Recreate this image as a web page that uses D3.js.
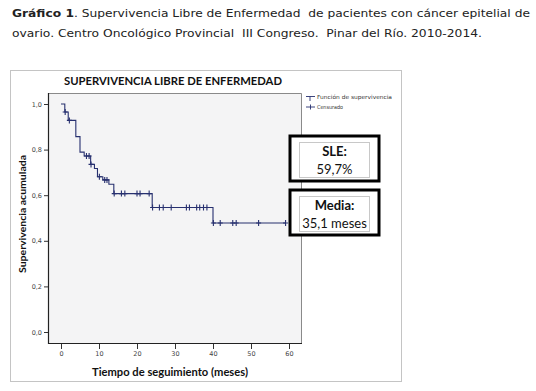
<!DOCTYPE html>
<html><head><meta charset="utf-8">
<script src="https://cdn.jsdelivr.net/npm/d3@7"></script>
<style>html,body{margin:0;padding:0;background:#fff;}svg{display:block;} text{white-space:pre;}</style>
</head><body>
<svg id="c" width="536" height="391"></svg>
<script>
// ---- data ----
const stepTimes = [0, 1.0, 1.9, 3.9, 5.0, 6.1, 7.8, 8.8, 9.6, 11.0, 12.6, 13.9, 24.0, 40.0];
const stepSurv  = [1.0, 0.965, 0.928, 0.857, 0.789, 0.772, 0.735, 0.717, 0.681, 0.667, 0.648, 0.607, 0.546, 0.478];
const endTime = 59.1;
const censorTimes = [1.1, 2.2, 6.7, 7.4, 7.9, 10.1, 11.5, 12.1, 14.0, 15.9, 16.8, 20.0, 20.8, 23.2,
  24.1, 25.9, 26.9, 29.0, 33.0, 33.8, 35.7, 36.5, 37.5, 38.4,
  40.1, 41.9, 45.2, 46.1, 52.0, 59.1];
const xTicks = [0, 10, 20, 30, 40, 50, 60];
const yTicks = [0, 0.2, 0.4, 0.6, 0.8, 1.0];
const captionBold = "Gráfico 1";
const captionLine1 = ". Supervivencia Libre de Enfermedad  de pacientes con cáncer epitelial de";
const captionLine2 = "ovario. Centro Oncológico Provincial  III Congreso.  Pinar del Río. 2010-2014.";
const chartTitle = "SUPERVIVENCIA LIBRE DE ENFERMEDAD";
const xTitle = "Tiempo de seguimiento (meses)";
const yTitle = "Supervivencia acumulada";
const legendItems = ["Función de supervivencia", "Censurado"];
const boxes = [["SLE:", "59,7%"], ["Media:", "35,1 meses"]];

// ---- drawing ----
const svg = d3.select("#c");
const lineColor = "#27306f";
const plot = {l: 48, r: 302, t: 93, b: 344};
const x = d3.scaleLinear().domain([0, 60]).range([61, 289]);
const y = d3.scaleLinear().domain([0, 1]).range([332, 104]);

// caption
const cap1 = svg.append("text").attr("x", 12).attr("y", 17)
  .attr("font-family", "DejaVu Sans, Verdana, sans-serif").attr("font-size", 11).attr("fill", "#222")
  .attr("textLength", 518).attr("lengthAdjust", "spacingAndGlyphs");
cap1.append("tspan").attr("font-weight", "bold").text(captionBold);
cap1.append("tspan").text(captionLine1);
svg.append("text").attr("x", 12).attr("y", 37)
  .attr("font-family", "DejaVu Sans, Verdana, sans-serif").attr("font-size", 11).attr("fill", "#222")
  .attr("textLength", 470).attr("lengthAdjust", "spacingAndGlyphs")
  .text(captionLine2);

// outer frame
svg.append("rect").attr("x", 10.5).attr("y", 70.5).attr("width", 391).attr("height", 311)
  .attr("fill", "#fff").attr("stroke", "#c4c4c4");

// chart title
svg.append("text").attr("x", 173).attr("y", 85).attr("text-anchor", "middle")
  .attr("font-family", "Lato, 'Open Sans', sans-serif").attr("font-weight", "bold").attr("font-size", 11.5)
  .attr("fill", "#111").attr("textLength", 218).attr("lengthAdjust", "spacingAndGlyphs").text(chartTitle);

// plot background
svg.append("rect").attr("x", plot.l).attr("y", plot.t).attr("width", plot.r - plot.l).attr("height", plot.b - plot.t)
  .attr("fill", "#f4f4f5");
// top and right border (gray)
svg.append("path").attr("d", `M${plot.l},${plot.t + 0.5}H${plot.r - 0.5}V${plot.b}`)
  .attr("fill", "none").attr("stroke", "#8a8a8a");
// left & bottom axes (black)
svg.append("path").attr("d", `M${plot.l + 0.5},${plot.t}V${plot.b - 0.5}H${plot.r}`)
  .attr("fill", "none").attr("stroke", "#222").attr("stroke-width", 1.2);

// y axis ticks
const fmt = d => d3.format(".1f")(d).replace(".", ",");
const yAxis = d3.axisLeft(y).tickValues(yTicks).tickFormat(fmt).tickSize(4).tickPadding(2);
const gy = svg.append("g").attr("transform", `translate(${plot.l},0)`).call(yAxis);
gy.select(".domain").remove();
gy.selectAll("line").attr("stroke", "#333");
gy.selectAll("text").attr("font-family", "'DejaVu Sans', sans-serif").attr("font-size", 6.5).attr("fill", "#444");

// x axis ticks
const xAxis = d3.axisBottom(x).tickValues(xTicks).tickFormat(d3.format("d")).tickSize(5).tickPadding(2);
const gx = svg.append("g").attr("transform", `translate(0,${plot.b})`).call(xAxis);
gx.select(".domain").remove();
gx.selectAll("line").attr("stroke", "#333");
gx.selectAll("text").attr("font-family", "'DejaVu Sans', sans-serif").attr("font-size", 6.5).attr("fill", "#444");

// axis titles
svg.append("text").attr("x", 170).attr("y", 376).attr("text-anchor", "middle")
  .attr("font-family", "Lato, 'Open Sans', sans-serif").attr("font-weight", "bold").attr("font-size", 12)
  .attr("fill", "#111").attr("textLength", 156).attr("lengthAdjust", "spacingAndGlyphs").text(xTitle);
svg.append("text").attr("transform", "translate(26,214) rotate(-90)").attr("text-anchor", "middle")
  .attr("font-family", "Lato, 'Open Sans', sans-serif").attr("font-weight", "bold").attr("font-size", 10)
  .attr("fill", "#111").attr("textLength", 118).attr("lengthAdjust", "spacingAndGlyphs").text(yTitle);

// survival step curve
const pts = stepTimes.map((t, i) => [t, stepSurv[i]]);
pts.push([endTime, stepSurv[stepSurv.length - 1]]);
const line = d3.line().x(d => x(d[0])).y(d => y(d[1])).curve(d3.curveStepAfter);
svg.append("path").attr("d", line(pts)).attr("fill", "none").attr("stroke", lineColor).attr("stroke-width", 1.1);

// censor marks
const survAt = t => stepSurv[Math.max(0, d3.bisectRight(stepTimes, t) - 1)];
svg.append("g").selectAll("path").data(censorTimes).join("path")
  .attr("d", t => { const cx = x(t), cy = y(survAt(t)); return `M${cx},${cy - 3}V${cy + 3}M${cx - 2.5},${cy}H${cx + 2.5}`; })
  .attr("stroke", lineColor).attr("stroke-width", 1.1).attr("fill", "none");

// legend
const lg = svg.append("g").attr("font-family", "'DejaVu Sans', sans-serif").attr("font-size", 5.5).attr("fill", "#333");
lg.append("path").attr("d", "M306,96.5H310V101M310,96.5H315").attr("stroke", lineColor).attr("fill", "none").attr("stroke-width", 0.9);
lg.append("path").attr("d", "M306,107H315M310.5,104.5V109.5").attr("stroke", lineColor).attr("fill", "none").attr("stroke-width", 0.9);
lg.selectAll("text").data(legendItems).join("text")
  .attr("x", 317).attr("y", (d, i) => 99 + i * 10).text(d => d)
  .attr("textLength", (d, i) => i === 0 ? 75 : 26).attr("lengthAdjust", "spacingAndGlyphs");

// annotation boxes
const boxTops = [135, 189];
boxes.forEach((b, i) => {
  const top = boxTops[i];
  svg.append("rect").attr("x", 290).attr("y", top + 1).attr("width", 89).attr("height", 45)
    .attr("fill", "#fff").attr("stroke", "#000").attr("stroke-width", 3);
  svg.append("rect").attr("x", 299.5).attr("y", top + 7.5).attr("width", 70).attr("height", 35)
    .attr("fill", "#fff").attr("stroke", "#c8c8c8").attr("stroke-width", 1);
  svg.append("text").attr("x", 334.5).attr("y", top + 21).attr("text-anchor", "middle")
    .attr("font-family", "Lato, 'Open Sans', sans-serif").attr("font-weight", "bold").attr("font-size", 13)
    .attr("fill", "#111").text(b[0]);
  svg.append("text").attr("x", 334.5).attr("y", top + 38.5).attr("text-anchor", "middle")
    .attr("font-family", "Lato, 'Open Sans', sans-serif").attr("font-size", 13)
    .attr("fill", "#111").text(b[1]);
});
</script>
</body></html>
